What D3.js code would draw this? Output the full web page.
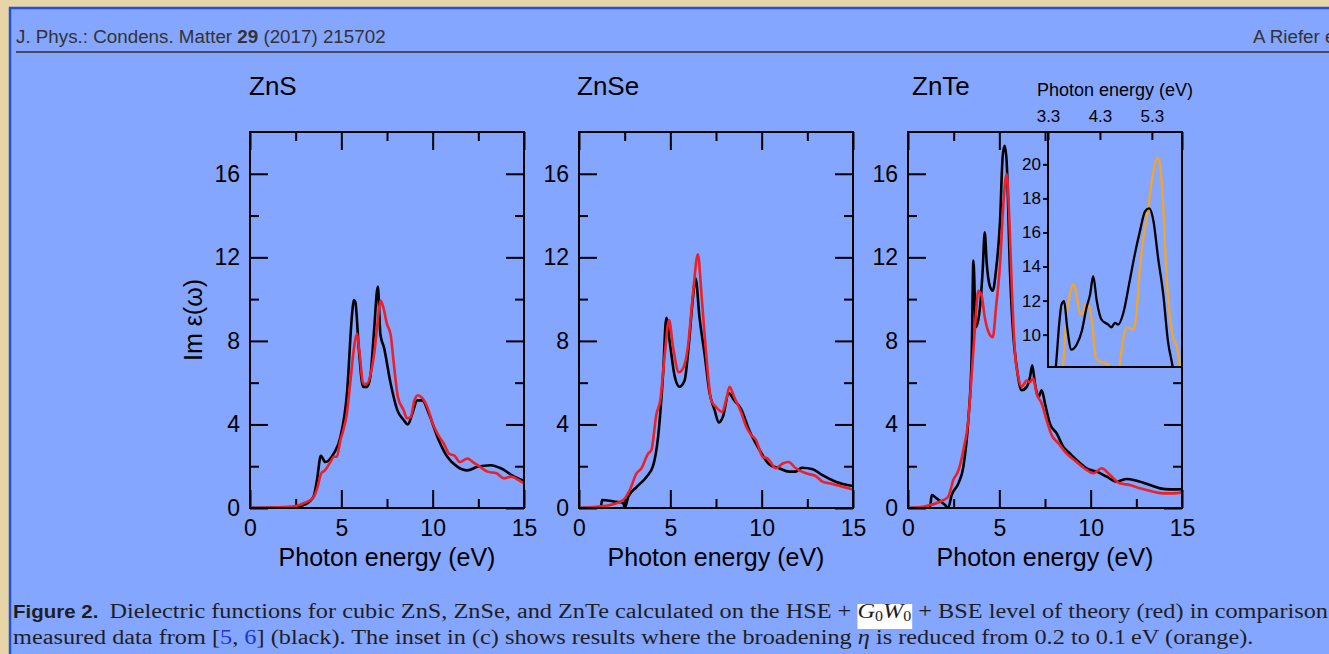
<!DOCTYPE html>
<html>
<head>
<meta charset="utf-8">
<script src="https://cdn.jsdelivr.net/npm/d3@7"></script>
<style>
  html, body { margin: 0; padding: 0; overflow: hidden; background: #e7d5a8; }
  svg { display: block; }
</style>
</head>
<body>
<svg id="fig" width="1329" height="654"></svg>
<script>
// ---- tick values ----
const energyTicks = [0, 5, 10, 15];
const energyMinorTicks = [2.5, 7.5, 12.5];
const epsTicks = [0, 4, 8, 12, 16];
const epsMinorTicks = [2, 6, 10, 14];
const insetEnergyTicks = [3.3, 4.3, 5.3];
const insetEpsTicks = [10, 12, 14, 16, 18, 20];

const materials = ["ZnS", "ZnSe", "ZnTe"];

// ---- Im eps(omega): measured (black) and HSE+G0W0+BSE (red), [energy eV, value] ----
const znsMeasured = [[0,0],[1,0.01],[1.8,0.0],[2.4,0.05],[2.93,0.14],[3.48,0.54],[3.66,1.3],[3.88,2.5],[4.12,2.2],[4.58,2.6],[4.95,3.4],[5.31,5.5],[5.59,9.3],[5.68,9.95],[5.77,9.85],[5.95,7.7],[6.19,5.8],[6.41,5.8],[6.59,6.3],[6.78,8.35],[7.0,10.6],[7.14,8.3],[7.33,7.7],[7.69,6.0],[8.06,4.7],[8.42,4.2],[8.64,4.0],[8.88,4.5],[9.16,5.15],[9.43,5.15],[9.8,4.5],[10.26,3.4],[10.8,2.45],[11.36,1.97],[11.9,1.8],[12.45,1.97],[13.19,2.05],[13.74,1.9],[14.47,1.5],[15,1.3]];
const znsTheory = [[0,0],[1.5,0.03],[2.5,0.1],[3.0,0.25],[3.5,0.54],[3.7,1.0],[3.9,1.66],[4.1,1.8],[4.4,2.2],[4.6,2.45],[4.75,2.45],[4.95,3.25],[5.1,3.7],[5.3,4.5],[5.5,6.1],[5.7,7.7],[5.86,8.35],[6.0,7.4],[6.2,5.95],[6.4,5.95],[6.6,6.4],[6.8,7.4],[7.0,9.0],[7.14,9.94],[7.3,9.6],[7.5,8.8],[7.7,8.3],[7.85,7.1],[8.1,5.3],[8.4,4.7],[8.6,4.3],[8.8,4.35],[9.0,5.15],[9.2,5.4],[9.45,5.25],[9.7,4.85],[10.0,4.05],[10.3,3.5],[10.6,3.1],[10.9,2.6],[11.2,2.5],[11.5,2.2],[11.9,2.37],[12.2,2.2],[12.6,1.97],[13.0,1.74],[13.5,1.66],[13.9,1.42],[14.3,1.5],[14.7,1.34],[15,1.18]];

const znseMeasured = [[0,0],[1.2,0.02],[1.26,0.38],[2.0,0.3],[2.42,0.25],[2.5,0.0],[2.7,0.55],[3.15,1.0],[3.7,1.5],[4.05,2.0],[4.33,3.4],[4.6,6.4],[4.78,9.1],[4.96,8.0],[5.24,6.3],[5.5,5.8],[5.78,6.1],[6.0,7.7],[6.24,10.1],[6.38,11.0],[6.6,9.1],[6.87,7.4],[7.15,5.5],[7.42,4.7],[7.65,4.1],[7.87,4.35],[8.2,5.5],[8.5,5.15],[8.87,4.75],[9.33,3.7],[9.87,2.8],[10.4,2.1],[10.96,1.9],[11.5,1.74],[11.87,1.74],[12.2,1.93],[12.8,1.86],[13.3,1.58],[14.05,1.26],[15,1.05]];
const znseTheory = [[0,0],[0.96,0.06],[1.87,0.18],[2.42,0.38],[2.78,0.86],[3.15,1.66],[3.42,1.9],[3.78,2.6],[3.96,2.77],[4.24,4.5],[4.45,5.15],[4.7,7.4],[4.93,9.0],[5.15,7.7],[5.47,6.5],[5.69,6.67],[5.96,7.7],[6.24,10.25],[6.51,12.15],[6.69,10.4],[6.93,7.7],[7.24,5.15],[7.5,4.84],[7.84,4.6],[8.05,5.15],[8.24,5.8],[8.5,5.3],[8.87,4.6],[9.15,3.9],[9.42,3.5],[9.69,3.25],[10.05,2.45],[10.33,2.37],[10.78,1.9],[11.15,2.13],[11.47,2.2],[11.87,1.9],[12.42,1.66],[12.96,1.53],[13.33,1.26],[13.87,1.15],[14.42,1.02],[15,0.89]];

const znteMeasured = [[0,0],[1.2,0.02],[1.3,0.62],[1.57,0.46],[2.03,0.14],[2.2,0.0],[2.39,0.62],[2.76,1.18],[3.03,1.97],[3.3,4.2],[3.49,7.4],[3.58,11.85],[3.72,8.66],[3.94,9.6],[4.09,11.4],[4.2,13.2],[4.31,11.7],[4.49,10.6],[4.64,10.4],[4.82,11.4],[5.04,13.76],[5.18,16.8],[5.29,17.34],[5.4,16.6],[5.58,11.4],[5.77,8.2],[5.95,6.75],[6.22,5.64],[6.5,5.8],[6.68,6.27],[6.8,6.83],[6.95,5.96],[7.14,5.3],[7.32,5.64],[7.5,5.0],[7.77,4.04],[8.14,3.57],[8.5,2.93],[8.87,2.6],[9.23,2.3],[9.78,1.9],[10.33,1.74],[10.88,1.5],[11.42,1.26],[11.97,1.39],[12.52,1.3],[13.25,1.1],[13.8,0.94],[14.34,0.89],[15,0.9]];
const znteTheory = [[0,0],[1.02,0.1],[1.75,0.3],[2.2,0.54],[2.48,1.34],[2.76,1.8],[3.03,2.77],[3.3,4.2],[3.49,6.43],[3.67,8.66],[3.85,10.4],[4.03,10.17],[4.2,9.14],[4.45,8.34],[4.64,8.18],[4.82,9.6],[5.04,11.7],[5.22,14.55],[5.4,16.0],[5.55,13.76],[5.68,10.6],[5.86,7.4],[6.04,6.27],[6.22,5.8],[6.5,6.1],[6.68,6.03],[6.86,6.2],[7.04,5.48],[7.32,5.0],[7.59,4.2],[7.86,3.5],[8.23,3.1],[8.69,2.6],[9.23,2.2],[9.78,1.82],[10.15,1.66],[10.6,1.9],[11.06,1.58],[11.6,1.18],[12.15,1.1],[12.7,0.94],[13.43,0.78],[13.98,0.7],[14.53,0.7],[15,0.75]];

// ZnTe inset: measured (black) and reduced broadening (orange)
const znteInsetMeasured = [[3.4,7.0],[3.45,8.1],[3.52,10.78],[3.56,11.76],[3.61,11.96],[3.67,10.4],[3.75,9.12],[3.85,9.41],[3.95,10.2],[4.04,11.57],[4.11,12.35],[4.17,13.43],[4.24,11.96],[4.33,10.88],[4.46,10.59],[4.52,10.43],[4.59,10.69],[4.65,10.59],[4.75,11.27],[4.86,12.94],[4.97,14.7],[5.07,16.08],[5.17,17.25],[5.25,17.41],[5.33,16.67],[5.42,14.5],[5.52,12.35],[5.61,9.6],[5.7,8.1],[5.75,7.0]];
const znteInsetNarrow = [[3.55,7.0],[3.59,8.1],[3.66,11.18],[3.72,12.35],[3.79,12.98],[3.85,12.35],[3.92,11.18],[3.97,11.27],[4.03,11.8],[4.09,11.67],[4.16,10.4],[4.22,8.63],[4.3,8.43],[4.4,8.33],[4.46,8.24],[4.5,7.9],[4.57,7.6],[4.64,7.9],[4.67,8.1],[4.75,9.8],[4.81,10.43],[4.88,10.35],[4.95,10.29],[5.0,11.18],[5.07,13.92],[5.13,15.49],[5.23,17.45],[5.33,19.6],[5.4,20.39],[5.45,20.1],[5.52,17.45],[5.58,13.53],[5.65,10.98],[5.71,9.8],[5.77,9.41],[5.84,8.1],[5.88,7.0]];

const measuredSeries = [znsMeasured, znseMeasured, znteMeasured];
const theorySeries = [znsTheory, znseTheory, znteTheory];

// ---- layout & style ----
const W = 1329, H = 654;
const SANS = "'Liberation Sans', Arial, Helvetica, sans-serif";
const SERIF = "'Liberation Serif', 'Times New Roman', Times, serif";
const BLUE_BG = "#84a6fe";
const RED = "#ec2027";
const ORANGE = "#f5a524";
const plotLeft0 = 250, plotStep = 329, plotW = 274;
const plotTop = 132, plotBottom = 508;
const titleShift = [-1, -2, 4];
const CAP_SIZE = 24.3;
const CAP_SQUASH = 0.9;

const svg = d3.select("#fig");

// parchment backdrop and blue sheet
svg.append("rect").attr("width", W).attr("height", H).attr("fill", "#e7d5a8");
svg.append("rect").attr("x", 10).attr("y", 8).attr("width", W + 20).attr("height", H + 20)
  .attr("fill", BLUE_BG).attr("stroke", "#2450d3").attr("stroke-width", 2.5);

// running header
const header = svg.append("text").attr("x", 16).attr("y", 43)
  .attr("font-family", SANS).attr("font-size", 18.8).attr("fill", "#333");
header.append("tspan").text("J. Phys.: Condens. Matter ");
header.append("tspan").attr("font-weight", "bold").text("29");
header.append("tspan").text(" (2017) 215702");
svg.append("text").attr("x", 1253).attr("y", 43)
  .attr("font-family", SANS).attr("font-size", 18.8).attr("fill", "#333").text("A Riefer et al");
svg.append("line").attr("x1", 16).attr("x2", W).attr("y1", 52).attr("y2", 52)
  .attr("stroke", "#474b5c").attr("stroke-width", 2);

const defs = svg.append("defs");

function styleAxis(g, size) {
  g.attr("font-family", SANS).attr("font-size", size);
  g.select(".domain").remove();
  g.selectAll(".tick line").attr("stroke", "#000").attr("stroke-width", 2);
  g.selectAll(".tick text").attr("fill", "#000");
}

materials.forEach((name, i) => {
  const left = plotLeft0 + i * plotStep, right = left + plotW;
  const x = d3.scaleLinear().domain([0, 15]).range([left, right]);
  const y = d3.scaleLinear().domain([0, 18]).range([plotBottom, plotTop]);
  const g = svg.append("g").attr("class", "panel-" + name);

  defs.append("clipPath").attr("id", "clip-" + name)
    .append("rect").attr("x", left).attr("y", plotTop).attr("width", plotW).attr("height", plotBottom - plotTop);

  // major & minor ticks on all four sides, pointing inward
  const bottomMajor = g.append("g").attr("transform", `translate(0,${plotBottom})`)
    .call(d3.axisBottom(x).tickValues(energyTicks).tickSizeInner(-18).tickSizeOuter(0).tickPadding(12).tickFormat(d3.format("d")));
  styleAxis(bottomMajor, 23);
  const bottomMinor = g.append("g").attr("transform", `translate(0,${plotBottom})`)
    .call(d3.axisBottom(x).tickValues(energyMinorTicks).tickSizeInner(-9).tickSizeOuter(0).tickFormat(""));
  styleAxis(bottomMinor, 23);
  const topMajor = g.append("g").attr("transform", `translate(0,${plotTop})`)
    .call(d3.axisTop(x).tickValues(energyTicks).tickSizeInner(-18).tickSizeOuter(0).tickFormat(""));
  styleAxis(topMajor, 23);
  const topMinor = g.append("g").attr("transform", `translate(0,${plotTop})`)
    .call(d3.axisTop(x).tickValues(energyMinorTicks).tickSizeInner(-9).tickSizeOuter(0).tickFormat(""));
  styleAxis(topMinor, 23);

  const leftMajor = g.append("g").attr("transform", `translate(${left},0)`)
    .call(d3.axisLeft(y).tickValues(epsTicks).tickSizeInner(-18).tickSizeOuter(0).tickPadding(10).tickFormat(d3.format("d")));
  styleAxis(leftMajor, 23);
  const leftMinor = g.append("g").attr("transform", `translate(${left},0)`)
    .call(d3.axisLeft(y).tickValues(epsMinorTicks).tickSizeInner(-9).tickSizeOuter(0).tickFormat(""));
  styleAxis(leftMinor, 23);
  const rightMajor = g.append("g").attr("transform", `translate(${right},0)`)
    .call(d3.axisRight(y).tickValues(epsTicks).tickSizeInner(-18).tickSizeOuter(0).tickFormat(""));
  styleAxis(rightMajor, 23);
  const rightMinor = g.append("g").attr("transform", `translate(${right},0)`)
    .call(d3.axisRight(y).tickValues(epsMinorTicks).tickSizeInner(-9).tickSizeOuter(0).tickFormat(""));
  styleAxis(rightMinor, 23);

  // curves
  const line = d3.line().x(d => x(d[0])).y(d => y(d[1])).curve(d3.curveMonotoneX);
  const curves = g.append("g").attr("clip-path", `url(#clip-${name})`);
  curves.append("path").datum(measuredSeries[i]).attr("d", line)
    .attr("fill", "none").attr("stroke", "#000").attr("stroke-width", 2.6).attr("stroke-linejoin", "round");
  curves.append("path").datum(theorySeries[i]).attr("d", line)
    .attr("fill", "none").attr("stroke", RED).attr("stroke-width", 2.6).attr("stroke-linejoin", "round");

  // frame
  g.append("rect").attr("x", left).attr("y", plotTop).attr("width", plotW).attr("height", plotBottom - plotTop)
    .attr("fill", "none").attr("stroke", "#000").attr("stroke-width", 2);

  // titles
  g.append("text").attr("x", left + titleShift[i]).attr("y", 95).attr("font-family", SANS).attr("font-size", 26)
    .attr("fill", "#000").text(name);
  g.append("text").attr("x", (left + right) / 2).attr("y", 566).attr("text-anchor", "middle")
    .attr("font-family", SANS).attr("font-size", 25).attr("fill", "#000").text("Photon energy (eV)");
  if (i === 0) {
    g.append("text").attr("transform", `translate(202,${(plotTop + plotBottom) / 2}) rotate(-90)`)
      .attr("text-anchor", "middle").attr("font-family", SANS).attr("font-size", 25).attr("fill", "#000")
      .text("Im \u03b5(\u03c9)");
  }

  // ZnTe inset with reduced broadening
  if (name === "ZnTe") {
    const iL = 1048, iR = right, iT = plotTop, iB = 367;
    const ix = d3.scaleLinear().domain([3.3, 5.88]).range([iL, iR]);
    const iy = d3.scaleLinear().domain([8.1, 21.9]).range([iB, iT]);
    const ig = g.append("g").attr("class", "inset");
    ig.append("rect").attr("x", iL).attr("y", iT).attr("width", iR - iL).attr("height", iB - iT).attr("fill", BLUE_BG);
    defs.append("clipPath").attr("id", "clip-inset")
      .append("rect").attr("x", iL).attr("y", iT).attr("width", iR - iL).attr("height", iB - iT);

    const iTop = ig.append("g").attr("transform", `translate(0,${iT})`)
      .call(d3.axisTop(ix).tickValues(insetEnergyTicks).tickSizeInner(-8).tickSizeOuter(0).tickPadding(10).tickFormat(d3.format(".1f")));
    styleAxis(iTop, 17);
    const iLeft = ig.append("g").attr("transform", `translate(${iL},0)`)
      .call(d3.axisLeft(iy).tickValues(insetEpsTicks).tickSizeInner(5).tickSizeOuter(0).tickPadding(2).tickFormat(d3.format("d")));
    styleAxis(iLeft, 17);

    const iline = d3.line().x(d => ix(d[0])).y(d => iy(d[1])).curve(d3.curveMonotoneX);
    const ic = ig.append("g").attr("clip-path", "url(#clip-inset)");
    ic.append("path").datum(znteInsetNarrow).attr("d", iline)
      .attr("fill", "none").attr("stroke", ORANGE).attr("stroke-width", 2.3).attr("stroke-linejoin", "round");
    ic.append("path").datum(znteInsetMeasured).attr("d", iline)
      .attr("fill", "none").attr("stroke", "#000").attr("stroke-width", 2.3).attr("stroke-linejoin", "round");

    ig.append("rect").attr("x", iL).attr("y", iT).attr("width", iR - iL).attr("height", iB - iT)
      .attr("fill", "none").attr("stroke", "#000").attr("stroke-width", 2);
    ig.append("text").attr("x", (iL + iR) / 2).attr("y", 96).attr("text-anchor", "middle")
      .attr("font-family", SANS).attr("font-size", 18).attr("fill", "#000").text("Photon energy (eV)");
  }
});

// ---- caption ----
// Each caption line is one <text>, slightly condensed vertically; its styled runs
// are tspans placed left to right.
const cap = svg.append("g").attr("class", "caption");
function captionLine(x, baseline, runs) {
  const t = cap.append("text").attr("transform", `translate(0,${baseline}) scale(1,${CAP_SQUASH})`)
    .attr("x", x).attr("y", 0)
    .attr("font-family", SERIF).attr("font-size", CAP_SIZE).attr("fill", "#1e1e1e")
    .style("white-space", "pre");
  let cx = x;
  const marks = {};
  runs.forEach(r => {
    if (r.mark) { marks[r.mark] = cx; return; }
    const ts = t.append("tspan").attr("x", cx).attr("y", r.shift || 0).text(r.text);
    if (r.family) ts.attr("font-family", r.family);
    if (r.size) ts.attr("font-size", r.size);
    if (r.weight) ts.attr("font-weight", r.weight);
    if (r.style) ts.attr("font-style", r.style);
    if (r.fill) ts.attr("fill", r.fill);
    cx += ts.node().getComputedTextLength() + (r.gap || 0);
  });
  marks.end = cx;
  return { node: t, marks };
}

const l1 = captionLine(13, 618, [
  { text: "Figure 2.", family: SANS, size: 20.5, weight: "bold", gap: 11 },
  { text: "Dielectric functions for cubic ZnS, ZnSe, and ZnTe calculated on the HSE + " },
  { mark: "gwStart" },
  { text: "G", style: "italic" },
  { text: "0", size: 16, shift: 3 },
  { text: "W", style: "italic" },
  { text: "0", size: 16, shift: 3, gap: 1 },
  { mark: "gwEnd" },
  { text: " + BSE level of theory (red) in comparison" }
]);
cap.insert("rect", ":first-child").attr("x", l1.marks.gwStart).attr("y", 604)
  .attr("width", l1.marks.gwEnd - l1.marks.gwStart).attr("height", 25).attr("fill", "#fff");

captionLine(13, 643.6, [
  { text: "measured data from [" },
  { text: "5", fill: "#2333d0" },
  { text: ", " },
  { text: "6", fill: "#2333d0" },
  { text: "] (black). The inset in (c) shows results where the broadening " },
  { text: "\u03b7", style: "italic" },
  { text: " is reduced from 0.2 to 0.1\u2009eV (orange)." }
]);
</script>
</body>
</html>
